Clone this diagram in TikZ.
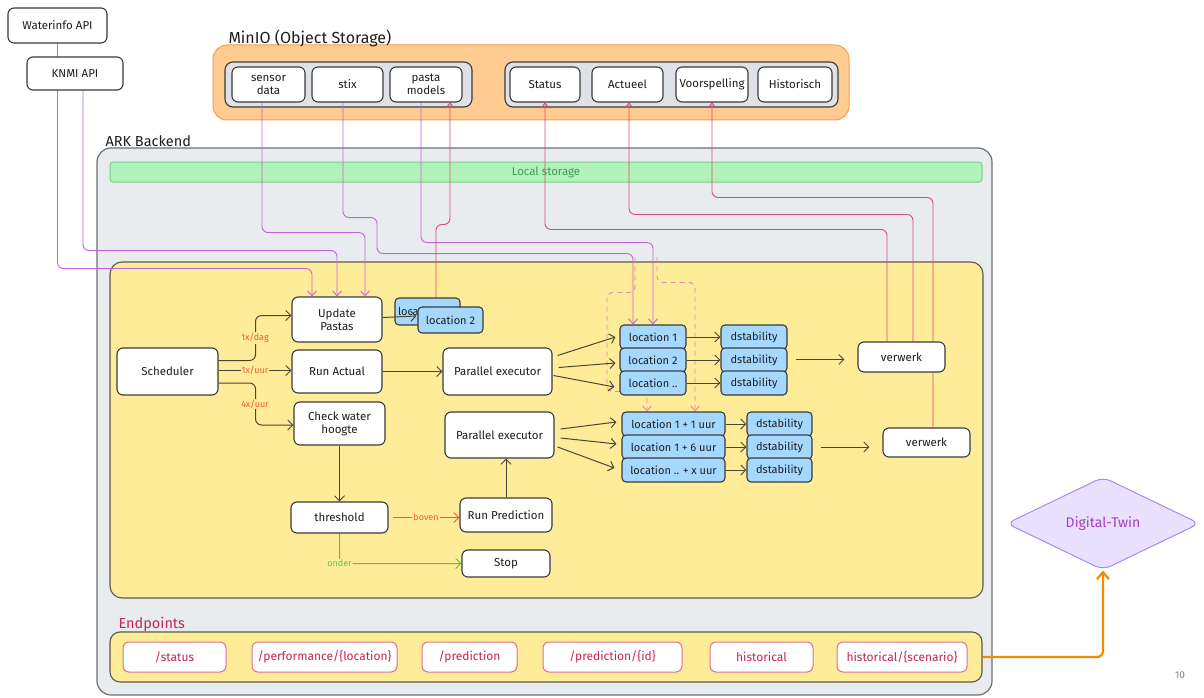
\documentclass[tikz,border=0pt]{standalone}
\usepackage{fontspec}
\setmainfont{Fira Sans}
\usetikzlibrary{shapes.geometric,arrows.meta,calc}
\pgfdeclarelayer{back}\pgfdeclarelayer{mid}
\pgfsetlayers{back,mid,main}
\definecolor{bd}{HTML}{3A3A3A}
\definecolor{txt}{HTML}{1E1E1E}
\definecolor{ylw}{HTML}{FFEC99}
\definecolor{ylwb}{HTML}{5A5A4A}
\definecolor{gbg}{HTML}{E9ECEF}
\definecolor{gbd}{HTML}{6C6F73}
\definecolor{org}{HTML}{FFCB90}
\definecolor{orgb}{HTML}{F5A04C}
\definecolor{grp}{HTML}{DEE2E6}
\definecolor{grn}{HTML}{B2F2BB}
\definecolor{grnb}{HTML}{7ACB8A}
\definecolor{grnt}{HTML}{3E9E55}
\definecolor{blu}{HTML}{A5D8FF}
\definecolor{purp}{HTML}{C565DA}
\definecolor{redl}{HTML}{DC4A7A}
\definecolor{dashc}{HTML}{E58AAE}
\definecolor{arr}{HTML}{4A4636}
\definecolor{lblc}{HTML}{EE5A36}
\definecolor{grnl}{HTML}{5FBF4A}
\definecolor{ong}{HTML}{F08C00}
\definecolor{epc}{HTML}{C2255C}
\definecolor{epb}{HTML}{E0708F}
\definecolor{lav}{HTML}{E9E0FF}
\definecolor{lavb}{HTML}{A98BEE}
\definecolor{dtt}{HTML}{A83DC4}
\tikzset{
  wbox/.style={draw=bd, fill=white, rounded corners=6, line width=1.1pt, inner sep=1pt, align=center, text=txt, font=\fontsize{11.5}{13}\selectfont},
  bbox/.style={draw=bd, fill=blu, rounded corners=4, line width=1.1pt, inner sep=1pt, text=txt, font=\fontsize{11}{12}\selectfont},
  epbox/.style={draw=epb, fill=white, rounded corners=6, line width=1pt, inner sep=1pt, text=epc, font=\fontsize{12}{13}\selectfont},
  conn/.style={draw=arr, line width=1pt, -{Straight Barb[length=5pt,width=10pt]}},
  inl/.style={draw=purp, line width=0.9pt, rounded corners=6, -{Straight Barb[length=5pt,width=9pt]}},
  outl/.style={draw=redl, line width=0.9pt, rounded corners=6, -{Straight Barb[length=5pt,width=9pt]}},
  dsh/.style={draw=dashc, line width=0.9pt, dash pattern=on 5pt off 4pt, rounded corners=6, -{Straight Barb[length=5pt,width=9pt]}},
  lbl/.style={font=\fontsize{9}{10}\selectfont, text=lblc, fill=ylw, inner sep=1pt},
}
\begin{document}
\begin{tikzpicture}[x=1pt,y=-1pt]
\useasboundingbox (0,0) rectangle (1204,698);
\begin{pgfonlayer}{back}
\fill[white] (0,0) rectangle (1204,698);
\node[draw=gbd, fill=gbg, rounded corners=14, line width=1.2pt, minimum width=895, minimum height=547] (backend) at (544.5,421.5) {};
\node[draw=grnb, fill=grn, rounded corners=3, line width=1pt, minimum width=872, minimum height=20, text=grnt, font=\fontsize{11.5}{12}\selectfont] (local) at (546,172) {Local storage};
\node[draw=ylwb, fill=ylw, rounded corners=12, line width=1.1pt, minimum width=873, minimum height=336] (mainbox) at (546.5,430) {};
\node[draw=orgb, fill=org, rounded corners=14, line width=1pt, minimum width=636, minimum height=75] (minio) at (531,82.5) {};
\node[draw=bd, fill=grp, rounded corners=8, line width=1.1pt, minimum width=247, minimum height=45] (grpL) at (348.5,84.5) {};
\node[draw=bd, fill=grp, rounded corners=8, line width=1.1pt, minimum width=333, minimum height=45] (grpR) at (671.5,84.5) {};
\node[draw=ylwb, fill=ylw, rounded corners=10, line width=1.1pt, minimum width=872, minimum height=50] (ep) at (546,657) {};
\end{pgfonlayer}

% titles
\node[anchor=west, text=txt, font=\fontsize{16}{18}\selectfont] (tminio) at (225,38) {MinIO (Object Storage)};
\node[anchor=west, text=txt, font=\fontsize{14.5}{17}\selectfont] (tark) at (102,141) {ARK Backend};
\node[anchor=west, text=epc, font=\fontsize{14.5}{17}\selectfont] (tep) at (115,624) {Endpoints};
\node[text=gray, font=\fontsize{10}{12}\selectfont] (pg) at (1180,675) {10};

% sources
\node[wbox, minimum width=99, minimum height=35] (wi) at (57.5,25.5) {Waterinfo API};
\node[wbox, minimum width=96, minimum height=33] (knmi) at (75,73.5) {KNMI API};
\node[wbox, minimum width=73, minimum height=35] (sensor) at (268.5,84.5) {sensor\\data};
\node[wbox, minimum width=71, minimum height=35] (stix) at (347.5,84.5) {stix};
\node[wbox, minimum width=72, minimum height=35] (pasta) at (426,84.5) {pasta\\models};
\node[wbox, minimum width=70, minimum height=35] (status) at (545,84.5) {Status};
\node[wbox, minimum width=71, minimum height=35] (actueel) at (627.5,84.5) {Actueel};
\node[wbox, minimum width=72, minimum height=35] (voors) at (712,84.5) {Voorspelling};
\node[wbox, minimum width=74, minimum height=35] (hist) at (795,84.5) {Historisch};

% process
\node[wbox, minimum width=101, minimum height=47] (sch) at (167.5,371.5) {Scheduler};
\node[wbox, minimum width=90, minimum height=45] (up) at (337,319.5) {Update\\Pastas};
\node[wbox, minimum width=90, minimum height=43] (ra) at (337,371.5) {Run Actual};
\node[wbox, minimum width=91, minimum height=43] (cw) at (339.5,423.5) {Check water\\hoogte};
\node[wbox, minimum width=109, minimum height=47] (pe1) at (497.5,371.5) {Parallel executor};
\node[wbox, minimum width=109, minimum height=46] (pe2) at (499.5,435) {Parallel executor};
\node[wbox, minimum width=97, minimum height=31] (th) at (339.5,517.5) {threshold};
\node[wbox, minimum width=92, minimum height=34] (rp) at (506,515) {Run Prediction};
\node[wbox, minimum width=88, minimum height=27] (stop) at (506,563.5) {Stop};
\node[wbox, minimum width=87, minimum height=30] (v1) at (901.5,357) {verwerk};
\node[wbox, minimum width=87, minimum height=29] (v2) at (926.5,442.5) {verwerk};

% blue boxes
\node[bbox, minimum width=65, minimum height=27, text width=59, align=left] (locA) at (427.5,311.5) {location 1};
\draw[conn] ($(up.east)+(0,-2)$) -- ($(locA.west)+(22,4.5)$);
\node[bbox, minimum width=65, minimum height=26] (locB) at (450.5,320) {location 2};
\node[bbox, minimum width=66, minimum height=24] (l1) at (653,337) {location 1};
\node[bbox, minimum width=66, minimum height=24] (l2) at (653,360) {location 2};
\node[bbox, minimum width=66, minimum height=24] (l3) at (653,383) {location ..};
\node[bbox, minimum width=66, minimum height=24] (d1) at (754,337) {dstability};
\node[bbox, minimum width=66, minimum height=24] (d2) at (754,360) {dstability};
\node[bbox, minimum width=66, minimum height=24] (d3) at (754,383) {dstability};
\node[bbox, minimum width=103, minimum height=24] (lh1) at (673.5,424) {location 1 + 1 uur};
\node[bbox, minimum width=103, minimum height=24] (lh2) at (673.5,447) {location 1 + 6 uur};
\node[bbox, minimum width=103, minimum height=24] (lh3) at (673.5,470) {location .. + x uur};
\node[bbox, minimum width=65, minimum height=24] (dh1) at (779.5,424) {dstability};
\node[bbox, minimum width=65, minimum height=24] (dh2) at (779.5,447) {dstability};
\node[bbox, minimum width=65, minimum height=24] (dh3) at (779.5,470) {dstability};

% endpoints
\node[epbox, minimum width=103, minimum height=30] (e1) at (174.5,657) {/status};
\node[epbox, minimum width=145, minimum height=30] (e2) at (324.5,657) {/performance/\{location\}};
\node[epbox, minimum width=95, minimum height=30] (e3) at (469.5,657) {/prediction};
\node[epbox, minimum width=139, minimum height=30] (e4) at (612.5,657) {/prediction/\{id\}};
\node[epbox, minimum width=103, minimum height=30] (e5) at (761.5,657) {historical};
\node[epbox, minimum width=130, minimum height=30] (e6) at (902,657) {historical/\{scenario\}};

% digital twin
\node[diamond, draw=lavb, fill=lav, line width=1pt, aspect=2.07, minimum width=193, minimum height=93, inner sep=0, rounded corners=8, text=dtt, font=\fontsize{14}{16}\selectfont] (dt) at (1103,523.5) {Digital-Twin};

\begin{pgfonlayer}{mid}
% inputs (purple)
\draw[inl] (wi.south) -- ++(0,225) -| ($(up.north)+(-25,0)$);
\draw[inl] ($(knmi.south)+(8,0)$) -- ++(0,160) -| (up.north);
\draw[inl] ($(sensor.south)+(-6.5,0)$) -- ++(0,130) -| ($(up.north)+(28,0)$);
\draw[inl] ($(stix.south)+(-4.5,0)$) -- ++(0,115) -- ++(34,0) -- ++(0,36) -| ($(l1.north)+(-20,0)$);
\draw[inl] ($(pasta.south)+(-5,0)$) -- ++(0,140) -| (l1.north);
% outputs (red)
\draw[outl] ($(locA.north)+(8.5,0)$) -- ++(0,-73) -| ($(pasta.south)+(24,0)$);
\draw[outl] ($(v1.north)+(-14.5,0)$) -- ++(0,-112) -| (status.south);
\draw[outl] ($(v1.north)+(11.5,0)$) -- ++(0,-127) -| ($(actueel.south)+(1.5,0)$);
\draw[outl] ($(v2.north)+(6.5,0)$) -- ++(0,-230) -| (voors.south);
% dashed
\draw[dsh] ($(l1.north)+(-18,-67)$) -- ++(0,35) -- ++(-28,0) -- ++(0,99) -| ($(lh1.north)+(-26.5,0)$);
\draw[dsh] ($(l1.north)+(4,-67)$) -- ++(0,25) -| ($(lh1.north)+(21.5,0)$);
% scheduler
\draw[conn, rounded corners=6] ($(sch.east)+(0,-11)$) -- ++(37,0) |- ($(up.west)+(0,-4)$);
\draw[conn] ($(sch.east)+(0,-1)$) -- node[lbl] (lb2) {1x/uur} ($(ra.west)+(0,-1)$);
\draw[conn, rounded corners=6] ($(sch.east)+(0,11.5)$) -- ++(37,0) |- ($(cw.west)+(0,1.5)$);
\node[lbl] (lb1) at (255,338) {1x/dag};
\node[lbl] (lb3) at (255,404) {4x/uur};
% flow
\draw[conn] (ra) -- (pe1);
\draw[conn] ($(pe1.east)+(5,-16)$) -- ($(l1.west)+(-4,0)$);
\draw[conn] ($(pe1.east)+(6,-4)$) -- ($(l2.west)+(-4,3)$);
\draw[conn] ($(pe1.east)+(1,4)$) -- ($(l3.west)+(-5,4)$);
\draw[conn] (l1) -- (d1);
\draw[conn] (l2) -- (d2);
\draw[conn] (l3) -- (d3);
\draw[conn] ($(pe2.east)+(6,-6)$) -- ($(lh1.west)+(-5,-2)$);
\draw[conn] ($(pe2.east)+(6,3)$) -- ($(lh2.west)+(-5,-3)$);
\draw[conn] ($(pe2.east)+(3,12)$) -- ($(lh3.west)+(-7,-2)$);
\draw[conn] (lh1) -- (dh1);
\draw[conn] (lh2) -- (dh2);
\draw[conn] (lh3) -- (dh3);
\draw[conn] ($(d2.east)+(8,-0.5)$) -- ($(v1.west)+(-13,2.5)$);
\draw[conn] ($(dh2.east)+(8,0)$) -- ($(v2.west)+(-13,4.5)$);
\draw[conn] (cw) -- (th);
\draw[conn, draw=lblc] ($(th.east)+(4,0)$) -- node[lbl] (lbb) {boven} (rp.west |- th.east);
\draw[conn, draw=grnl, rounded corners=6] (th.south) |- node[lbl, text=grnl, pos=0.5] (lbo) {onder} (stop.west);
\draw[conn] (rp.north) -- (rp.north |- pe2.south);
% to digital twin
\draw[draw=ong, line width=2.2pt, rounded corners=6, -{Straight Barb[length=7pt,width=12pt]}] (ep.east) -| (dt.south);
\end{pgfonlayer}
\end{tikzpicture}
\end{document}
